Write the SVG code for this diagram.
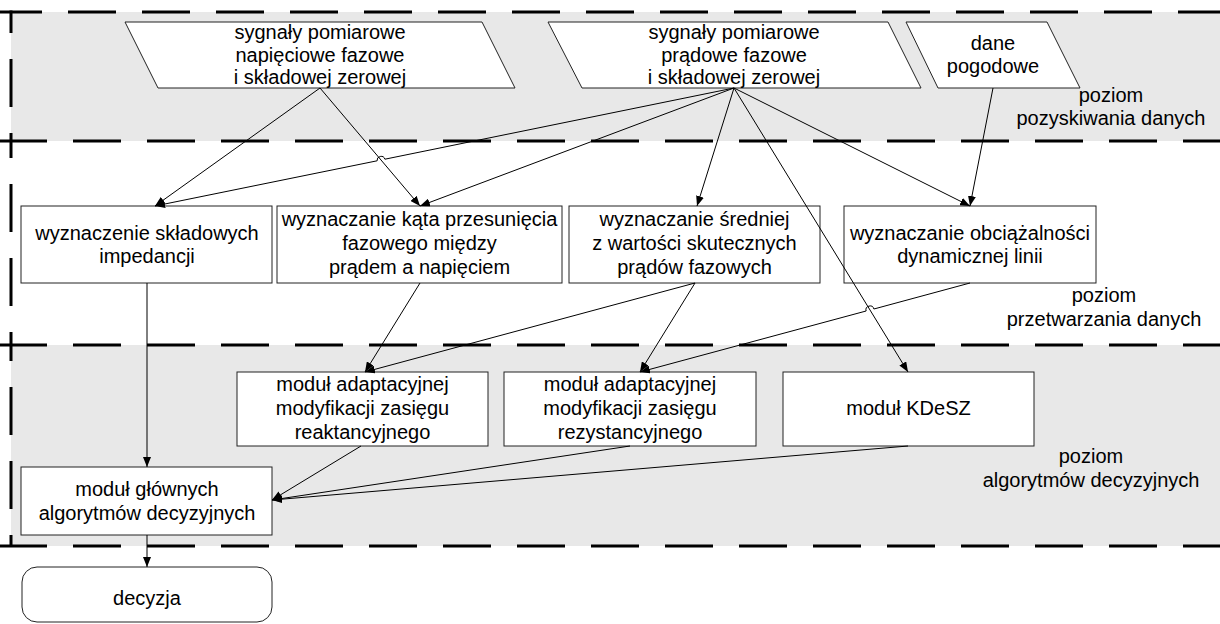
<svg xmlns="http://www.w3.org/2000/svg" width="1220" height="624" viewBox="0 0 1220 624">
<style>
text{font-family:"Liberation Sans",Arial,sans-serif;font-size:20px;fill:#000;text-anchor:middle}
.box{fill:#fff;stroke:#222;stroke-width:1}
.band{fill:#e8e8e8}
.dash{stroke:#000;stroke-width:3;stroke-dasharray:48 26;fill:none}
.con{stroke:#000;stroke-width:1;fill:none}
.arr{marker-end:url(#ah)}
</style>
<defs>
<marker id="ah" viewBox="0 0 10 8" refX="10" refY="4" markerWidth="10" markerHeight="8" markerUnits="userSpaceOnUse" orient="auto">
<path d="M0,0 L10,4 L0,8 Z" fill="#000"/>
</marker>
</defs>
<g id="bands">
<rect class="band" x="11" y="12" width="1209" height="129"/>
<rect class="band" x="11" y="345" width="1209" height="201"/>
<line class="dash" x1="-6" y1="12" x2="1230" y2="12"/>
<line class="dash" x1="-1" y1="141" x2="1230" y2="141"/>
<line class="dash" x1="-1" y1="345" x2="1230" y2="345"/>
<line class="dash" x1="-1" y1="546" x2="1230" y2="546"/>
<line class="dash" x1="11" y1="-15" x2="11" y2="141" style="stroke-dashoffset:0" clip-path="url(#c1)"/>
<line class="dash" x1="11" y1="110" x2="11" y2="345" clip-path="url(#c2)"/>
<line class="dash" x1="11" y1="313" x2="11" y2="546" clip-path="url(#c3)"/>
</g>
<defs>
<clipPath id="c1"><rect x="0" y="10.5" width="30" height="131"/></clipPath>
<clipPath id="c2"><rect x="0" y="141" width="30" height="204"/></clipPath>
<clipPath id="c3"><rect x="0" y="345" width="30" height="202.5"/></clipPath>
</defs>
<g id="labels">
<text x="1111" y="102">poziom</text>
<text x="1111" y="125">pozyskiwania danych</text>
<text x="1104" y="302">poziom</text>
<text x="1104" y="326">przetwarzania danych</text>
<text x="1091" y="463">poziom</text>
<text x="1091" y="487">algorytmów decyzyjnych</text>
</g>
<g id="n_sig_nap">
<polygon class="box" points="125,22 482,22 515,88 158,88"/>
<text x="320" y="39">sygnały pomiarowe</text>
<text x="320" y="61.5">napięciowe fazowe</text>
<text x="320" y="84">i składowej zerowej</text>
</g>
<g id="n_sig_prad">
<polygon class="box" points="548,22 888,22 921,88 582,88"/>
<text x="734" y="39">sygnały pomiarowe</text>
<text x="734" y="61.5">prądowe fazowe</text>
<text x="734" y="84">i składowej zerowej</text>
</g>
<g id="n_pogoda">
<polygon class="box" points="906,22 1047,22 1080,88 938,88"/>
<text x="993" y="50">dane</text>
<text x="993" y="72.5">pogodowe</text>
</g>
<g id="n_impedancja">
<rect class="box" x="21" y="206" width="251" height="77"/>
<text x="147" y="240">wyznaczenie składowych</text>
<text x="147" y="263">impedancji</text>
</g>
<g id="n_kat">
<rect class="box" x="277" y="206" width="285" height="77"/>
<text x="419.5" y="226">wyznaczanie kąta przesunięcia</text>
<text x="419.5" y="250">fazowego między</text>
<text x="419.5" y="274">prądem a napięciem</text>
</g>
<g id="n_srednia">
<rect class="box" x="569" y="206" width="251" height="77"/>
<text x="694.5" y="226">wyznaczanie średniej</text>
<text x="694.5" y="250">z wartości skutecznych</text>
<text x="694.5" y="274">prądów fazowych</text>
</g>
<g id="n_obciazalnosc">
<rect class="box" x="844" y="206" width="252" height="77"/>
<text x="970" y="240">wyznaczanie obciążalności</text>
<text x="970" y="263">dynamicznej linii</text>
</g>
<g id="n_reakt">
<rect class="box" x="237" y="372" width="251" height="74"/>
<text x="362.5" y="391">moduł adaptacyjnej</text>
<text x="362.5" y="415">modyfikacji zasięgu</text>
<text x="362.5" y="439">reaktancyjnego</text>
</g>
<g id="n_rezyst">
<rect class="box" x="504" y="372" width="252" height="74"/>
<text x="630" y="391">moduł adaptacyjnej</text>
<text x="630" y="415">modyfikacji zasięgu</text>
<text x="630" y="439">rezystancyjnego</text>
</g>
<g id="n_kdesz">
<rect class="box" x="783" y="372" width="251" height="74"/>
<text x="908.5" y="415">moduł KDeSZ</text>
</g>
<g id="n_glowny">
<rect class="box" x="21" y="467" width="251" height="68"/>
<text x="147" y="496">moduł głównych</text>
<text x="147" y="520">algorytmów decyzyjnych</text>
</g>
<g id="n_decyzja">
<rect class="box" x="22" y="567" width="250" height="55" rx="15" ry="15"/>
<text x="147" y="605">decyzja</text>
</g>
<g id="connectors">
<path class="con arr" d="M320,88 L155,206"/>
<path class="con arr" d="M320,88 L420,206"/>
<path class="con arr" d="M734,88 L384.9,159.2 A4,4 0 0 0 377.1,160.8 L155,206"/>
<path class="con arr" d="M734,88 L420,206"/>
<path class="con arr" d="M734,88 L697,206"/>
<path class="con arr" d="M734,88 L970,206"/>
<path class="con arr" d="M734,88 L908,372"/>
<path class="con arr" d="M993,88 L970,206"/>
<path class="con arr" d="M147,283 L147,467"/>
<path class="con arr" d="M420,283 L365,372"/>
<path class="con arr" d="M695,283 L365,372"/>
<path class="con arr" d="M695,283 L640,372"/>
<path class="con arr" d="M970,283 L873.9,309 A4,4 0 0 0 866.1,311 L640,372"/>
<path class="con arr" d="M361,446 L272,500"/>
<path class="con arr" d="M630,446 L272,500"/>
<path class="con arr" d="M908,446 L272,500"/>
<path class="con arr" d="M147,535 L147,567"/>
</g>
</svg>
